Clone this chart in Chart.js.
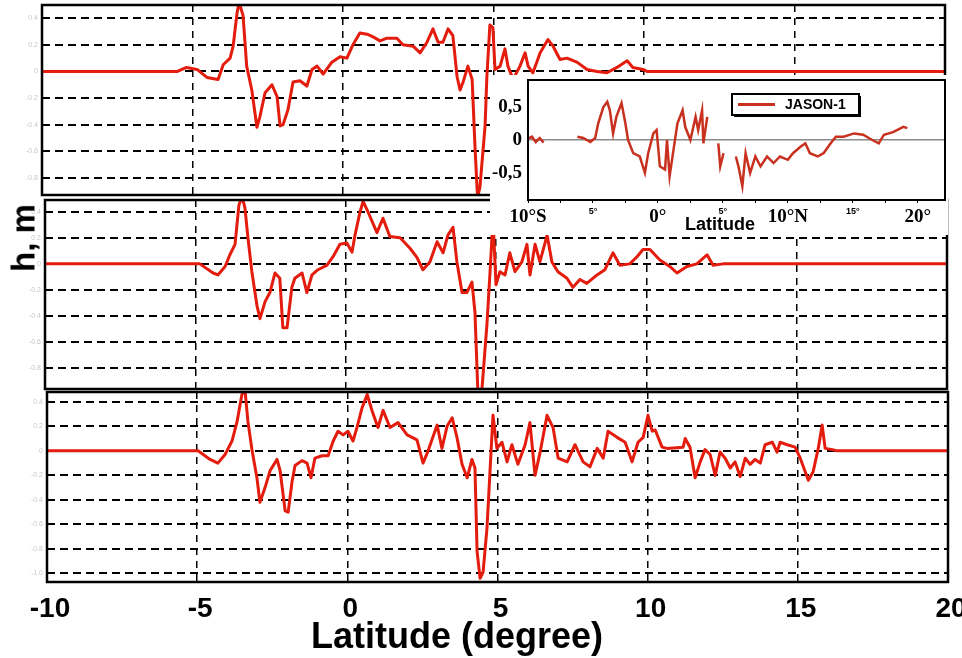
<!DOCTYPE html>
<html>
<head>
<meta charset="utf-8">
<script src="https://cdn.jsdelivr.net/npm/chart.js@4.4.1/dist/chart.umd.min.js"></script>
<style>
  html, body { margin: 0; padding: 0; background: #fff; }
  #page { position: relative; width: 962px; height: 658px; overflow: hidden; }
  canvas { position: absolute; left: 0; }
  .label { position: absolute; font-family: "Liberation Sans", Arial, sans-serif; font-weight: bold; white-space: nowrap; color: #000; z-index: 5; }
  #y-title { left: 23px; top: 238px; font-size: 33px; line-height: 33px; transform: translate(-50%, -50%) rotate(-90deg); }
  #x-title { left: 457px; top: 618px; font-size: 36px; line-height: 36px; transform: translateX(-50%); }
  #inset-title { left: 720px; top: 215px; font-size: 18px; line-height: 18px; transform: translateX(-50%); }
</style>
</head>
<body>
<div id="page">
  <canvas id="panel-1" width="962" height="200" style="top:0"></canvas>
  <canvas id="panel-2" width="962" height="196" style="top:198px"></canvas>
  <canvas id="panel-3" width="962" height="270" style="top:388px"></canvas>
  <canvas id="inset" width="458" height="160" style="left:490px;top:75px;background:#fff"></canvas>
  <div class="label" id="y-title">h, m</div>
  <div class="label" id="x-title">Latitude (degree)</div>
  <div class="label" id="inset-title">Latitude</div>
</div>
<script>
// latitude (degree) and sea level h (m)
const lat1 = [-10, -5.5, -5.2, -4.85, -4.52, -4.15, -3.98, -3.75, -3.65, -3.52,
  -3.45, -3.32, -3.2, -3.03, -2.86, -2.76, -2.59, -2.36, -2.19, -2.09,
  -1.99, -1.83, -1.66, -1.43, -1.2, -1.03, -0.86, -0.66, -0.37, -0.1,
  0.13, 0.33, 0.56, 0.8, 1.0, 1.23, 1.46, 1.79, 1.99, 2.33,
  2.56, 2.79, 2.99, 3.16, 3.32, 3.49, 3.65, 3.79, 3.89, 3.99,
  4.15, 4.29, 4.39, 4.47, 4.55, 4.72, 4.78, 4.88, 4.98, 5.05,
  5.22, 5.38, 5.48, 5.65, 5.88, 6.05, 6.15, 6.31, 6.55, 6.81,
  6.98, 7.21, 7.44, 7.77, 8.11, 8.44, 8.77, 9.1, 9.44, 9.63,
  9.97, 10.1, 20];
const h1 = [0, 0, 0.03, 0.015, -0.045, -0.06, 0.05, 0.1, 0.19, 0.44,
  0.52, 0.42, 0.04, -0.14, -0.42, -0.34, -0.16, -0.1, -0.19, -0.41,
  -0.4, -0.29, -0.08, -0.07, -0.11, 0.015, 0.04, -0.02, 0.07, 0.11,
  0.1, 0.2, 0.29, 0.28, 0.26, 0.23, 0.25, 0.25, 0.2, 0.19,
  0.14, 0.22, 0.32, 0.22, 0.22, 0.32, 0.27, -0.04, -0.14, -0.08,
  0.04, -0.06, -0.59, -0.95, -0.87, -0.41, -0.04, 0.35, 0.33, 0.015,
  0.04, 0.17, 0.04, -0.06, 0.04, 0.14, 0.04, -0.01, 0.14, 0.24,
  0.19, 0.09, 0.1, 0.07, 0.015, 0, -0.01, 0.03, 0.08, 0.03,
  0.015, 0, 0];

const lat2 = [-10, -4.85, -4.41, -4.25, -4.01, -3.85, -3.68, -3.55, -3.45, -3.35,
  -3.25, -3.12, -2.95, -2.85, -2.68, -2.52, -2.35, -2.19, -2.09, -1.95,
  -1.79, -1.69, -1.45, -1.29, -1.12, -0.92, -0.62, -0.42, -0.19, 0.04,
  0.21, 0.31, 0.48, 0.58, 0.74, 1.04, 1.24, 1.47, 1.81, 2.14,
  2.37, 2.57, 2.8, 3.04, 3.24, 3.4, 3.57, 3.7, 3.87, 4.03,
  4.2, 4.3, 4.4, 4.52, 4.7, 4.8, 4.9, 5.0, 5.13, 5.3,
  5.46, 5.63, 5.86, 6.03, 6.13, 6.3, 6.46, 6.7, 6.86, 7.06,
  7.36, 7.56, 7.79, 8.02, 8.36, 8.62, 8.89, 9.12, 9.45, 9.69,
  9.89, 10.12, 10.45, 10.78, 11.02, 11.35, 11.68, 12.02, 12.22, 12.55,
  20];
const h2 = [0, 0, -0.07, -0.085, -0.02, 0.07, 0.15, 0.45, 0.52, 0.43,
  0.2, -0.06, -0.32, -0.42, -0.29, -0.22, -0.07, -0.11, -0.49, -0.49,
  -0.18, -0.11, -0.07, -0.22, -0.085, -0.045, -0.01, 0.055, 0.15, 0.16,
  0.09, 0.22, 0.4, 0.48, 0.4, 0.24, 0.35, 0.21, 0.2, 0.12,
  0.05, -0.045, 0.015, 0.17, 0.085, 0.22, 0.28, 0.015, -0.22, -0.22,
  -0.14, -0.37, -1.0, -1.0, -0.46, -0.07, 0.35, -0.16, -0.06, -0.085,
  0.085, -0.06, 0.015, 0.15, -0.085, 0.15, 0.015, 0.22, 0.015, -0.06,
  -0.11, -0.18, -0.12, -0.15, -0.085, -0.045, 0.085, -0.01, 0, 0.055,
  0.11, 0.11, 0.03, -0.02, -0.07, -0.02, 0, 0.07, -0.01, 0,
  0];

const lat3 = [-10, -4.97, -4.57, -4.31, -4.07, -3.84, -3.67, -3.51, -3.41, -3.31,
  -3.17, -3.01, -2.91, -2.74, -2.57, -2.34, -2.24, -2.07, -1.97, -1.84,
  -1.74, -1.51, -1.34, -1.21, -1.08, -0.84, -0.64, -0.47, -0.31, -0.14,
  0.02, 0.19, 0.32, 0.49, 0.66, 0.82, 1.02, 1.19, 1.42, 1.69,
  1.99, 2.32, 2.52, 2.69, 2.99, 3.15, 3.32, 3.49, 3.65, 3.82,
  3.99, 4.15, 4.25, 4.32, 4.42, 4.52, 4.65, 4.75, 4.85, 4.98,
  5.15, 5.32, 5.48, 5.68, 5.92, 6.08, 6.25, 6.42, 6.65, 6.85,
  7.02, 7.32, 7.58, 7.85, 8.08, 8.32, 8.52, 8.68, 8.98, 9.25,
  9.48, 9.68, 9.85, 10.01, 10.15, 10.25, 10.48, 10.65, 11.18, 11.25,
  11.41, 11.58, 11.75, 11.91, 12.08, 12.25, 12.41, 12.58, 12.75, 12.91,
  13.08, 13.25, 13.41, 13.58, 13.75, 13.91, 14.15, 14.31, 14.41, 14.65,
  14.91, 15.08, 15.35, 15.51, 15.68, 15.81, 15.91, 16.15, 16.31, 20];
const h3 = [0, 0, -0.07, -0.1, -0.03, 0.08, 0.24, 0.46, 0.5, 0.24,
  0, -0.22, -0.42, -0.3, -0.16, -0.07, -0.16, -0.49, -0.5, -0.25,
  -0.12, -0.08, -0.1, -0.22, -0.06, -0.04, -0.04, 0.08, 0.16, 0.13,
  0.16, 0.08, 0.19, 0.35, 0.46, 0.33, 0.19, 0.33, 0.19, 0.23,
  0.13, 0.09, -0.1, 0, 0.21, 0.02, 0.2, 0.27, 0.11, -0.11,
  -0.22, -0.07, -0.14, -0.82, -1.04, -0.99, -0.63, -0.17, 0.29, 0.02,
  0.07, -0.09, 0.05, -0.11, 0.05, 0.23, -0.2, -0.01, 0.29, 0.19,
  -0.06, -0.09, 0.05, -0.09, -0.13, 0.02, -0.06, 0.16, 0.11, 0.07,
  -0.09, 0.07, 0.11, 0.29, 0.16, 0.17, 0.03, 0.02, 0.03, 0.1,
  0.03, -0.22, -0.09, 0.01, -0.03, -0.2, -0.01, -0.06, -0.14, -0.09,
  -0.21, -0.06, -0.11, -0.07, -0.1, 0.05, 0.07, -0.01, 0.07, 0.05,
  0.03, -0.06, -0.24, -0.17, 0.02, 0.21, 0.02, 0.01, 0, 0];

// JASON-1 inset, null marks a gap in the track
const insetLat = [-10, -9.7, -9.4, -9.1, -8.8, -7.5, -6.2, -5.75, -5.2, -4.83,
  -4.6, -4.2, -3.9, -3.7, -3.45, -3.2, -2.8, -2.5, -2.3, -1.9,
  -1.4, -1.0, -0.75, -0.35, -0.1, 0.15, 0.55, 0.7, 0.9, 1.2,
  1.5, 1.9, 2.1, 2.5, 2.9, 3.1, 3.4, 3.5, 3.8, 4.2,
  4.65, 4.8, 5.05, 5.5, 6.0, 6.2, 6.5, 6.75, 7.1, 7.5,
  7.9, 8.4, 8.9, 9.4, 10.0, 10.4, 11.0, 11.35, 11.7, 12.3,
  12.75, 13.3, 13.7, 14.3, 15.1, 15.8, 16.5, 17.0, 17.4, 18.1,
  18.9, 19.2];
const insetH = [0.02, 0.05, -0.03, 0.03, -0.04, null, 0.05, 0.03, -0.03, 0.03,
  0.25, 0.5, 0.58, 0.45, 0.1, 0.35, 0.56, 0.25, 0, -0.2,
  -0.25, -0.5, -0.2, 0.1, 0.15, -0.4, -0.45, 0, -0.55, -0.15,
  0.25, 0.45, 0.2, 0, 0.35, 0.15, 0.45, -0.05, 0.35, null,
  -0.05, -0.4, -0.2, null, -0.25, -0.4, -0.7, -0.2, -0.5, -0.25,
  -0.4, -0.25, -0.35, -0.25, -0.3, -0.2, -0.1, -0.05, -0.2, -0.25,
  -0.2, -0.05, 0.05, 0.05, 0.1, 0.08, 0, -0.05, 0.08, 0.12,
  0.2, 0.18];

const latTicks = [-10, -5, 0, 5, 10, 15, 20];
const levelTicks = [0.4, 0.2, 0, -0.2, -0.4, -0.6, -0.8];
const levelTicksBottom = [0.4, 0.2, 0, -0.2, -0.4, -0.6, -0.8, -1];
const insetLevelTicks = [0.5, 0, -0.5];
const insetMarks = [-10, -7.5, -5, -2.5, 0, 2.5, 5, 7.5, 10, 12.5, 15, 17.5, 20];
const insetTickValues = [-10, -5, 0, 5, 10, 15, 20];
const insetTickLabels = ["10°S", "5°", "0°", "5°", "10°N", "15°", "20°"];

const lineRed = "#e31c0d";
const insetRed = "#c8301f";
const sansBold = "'Liberation Sans', Arial, sans-serif";
const serifBold = "'Liberation Serif', 'Times New Roman', serif";

function toPoints(xs, ys) {
  return xs.map(function (x, i) {
    return { x: x, y: ys[i] };
  });
}

function fixedTicks(values) {
  return function (axis) {
    axis.ticks = values.map(function (v) {
      return { value: v };
    });
  };
}

// lock an axis to a given size and drop the padding chart.js adds for edge labels
function fixedSize(prop, size) {
  return function (axis) {
    axis[prop] = size;
    axis.paddingLeft = 0;
    axis.paddingRight = 0;
    axis.paddingTop = 0;
    axis.paddingBottom = 0;
  };
}

const framePlugin = {
  id: "frame",
  afterDatasetsDraw: function (chart, args, opts) {
    const a = chart.chartArea;
    const ctx = chart.ctx;
    ctx.save();
    ctx.lineWidth = opts.width || 2;
    ctx.strokeStyle = "#000";
    ctx.strokeRect(a.left, a.top, a.right - a.left, a.bottom - a.top);
    ctx.restore();
  },
};

const boxLegendPlugin = {
  id: "boxLegend",
  afterDatasetsDraw: function (chart, args, opts) {
    const ds = chart.data.datasets[0];
    const a = chart.chartArea;
    const ctx = chart.ctx;
    const x = a.left + opts.offsetX;
    const y = a.top + opts.offsetY;
    const mid = y + opts.height / 2;
    ctx.save();
    ctx.fillStyle = "#000";
    ctx.fillRect(x + 2, y + 2, opts.width, opts.height);
    ctx.fillStyle = "#fff";
    ctx.fillRect(x, y, opts.width, opts.height);
    ctx.lineWidth = 2;
    ctx.strokeStyle = "#000";
    ctx.strokeRect(x, y, opts.width, opts.height);
    ctx.strokeStyle = ds.borderColor;
    ctx.lineWidth = 3;
    ctx.beginPath();
    ctx.moveTo(x + 6, mid);
    ctx.lineTo(x + 43, mid);
    ctx.stroke();
    ctx.fillStyle = "#000";
    ctx.font = "bold 14px " + sansBold;
    ctx.textBaseline = "middle";
    ctx.fillText(ds.label, x + 53, mid + 1);
    ctx.restore();
  },
};

function renderPanel(id, lat, h, setup) {
  return new Chart(document.getElementById(id), {
    type: "line",
    data: {
      datasets: [
        {
          data: toPoints(lat, h),
          borderColor: lineRed,
          borderWidth: 3,
          pointRadius: 0,
          tension: 0,
          borderJoinStyle: "round",
        },
      ],
    },
    options: {
      responsive: false,
      animation: false,
      events: [],
      layout: {
        padding: { left: 0, right: setup.padRight, top: setup.padTop, bottom: setup.padBottom },
      },
      plugins: {
        legend: { display: false },
        tooltip: { enabled: false },
        frame: { width: 2.5 },
      },
      scales: {
        x: {
          type: "linear",
          min: -10,
          max: 20,
          afterBuildTicks: fixedTicks(latTicks),
          afterFit: fixedSize("height", setup.xHeight),
          grid: {
            color: function (c) {
              return c.tick && (c.tick.value === -10 || c.tick.value === 20) ? "transparent" : "#000";
            },
            lineWidth: 1.5,
            drawTicks: false,
          },
          border: { display: false, dash: [7, 6] },
          ticks: {
            display: setup.showLabels,
            padding: 10,
            labelOffset: 3,
            color: "#000",
            maxRotation: 0,
            autoSkip: false,
            font: { family: sansBold, weight: "bold", size: 28 },
          },
        },
        y: {
          min: setup.min,
          max: setup.max,
          afterBuildTicks: fixedTicks(setup.levels),
          afterFit: fixedSize("width", setup.left),
          grid: { color: "#000", lineWidth: 2, drawTicks: false },
          border: { display: false, dash: [8, 5] },
          ticks: {
            padding: 4,
            color: "#c8c8c8",
            font: { family: sansBold, size: 7 },
          },
        },
      },
    },
    plugins: [framePlugin],
  });
}

renderPanel("panel-1", lat1, h1, {
  min: -0.93, max: 0.5, levels: levelTicks, left: 42, padRight: 17,
  padTop: 5, padBottom: 5, xHeight: 0, showLabels: false,
});
renderPanel("panel-2", lat2, h2, {
  min: -0.96, max: 0.49, levels: levelTicks, left: 45, padRight: 15,
  padTop: 2, padBottom: 5, xHeight: 0, showLabels: false,
});
renderPanel("panel-3", lat3, h3, {
  min: -1.07, max: 0.48, levels: levelTicksBottom, left: 47, padRight: 14,
  padTop: 4, padBottom: 0, xHeight: 76, showLabels: true,
});

new Chart(document.getElementById("inset"), {
  type: "line",
  data: {
    datasets: [
      {
        label: "JASON-1",
        data: toPoints(insetLat, insetH),
        borderColor: insetRed,
        borderWidth: 2.5,
        pointRadius: 0,
        tension: 0,
        spanGaps: false,
      },
    ],
  },
  options: {
    responsive: false,
    animation: false,
    events: [],
    layout: { padding: { left: 0, right: 3, top: 5, bottom: 0 } },
    plugins: {
      legend: { display: false },
      tooltip: { enabled: false },
      frame: { width: 2 },
      boxLegend: { offsetX: 204, offsetY: 14, width: 127, height: 21 },
    },
    scales: {
      x: {
        type: "linear",
        min: -10,
        max: 22.1,
        afterBuildTicks: fixedTicks(insetMarks),
        afterFit: fixedSize("height", 35),
        grid: { drawOnChartArea: false, drawTicks: true, tickLength: 3, color: "#000", lineWidth: 1 },
        border: { display: false },
        ticks: {
          padding: 3,
          color: "#000",
          maxRotation: 0,
          autoSkip: false,
          font: function (c) {
            const v = c.tick ? c.tick.value : 0;
            return v % 10 === 0
              ? { family: serifBold, weight: "bold", size: 19 }
              : { family: sansBold, weight: "bold", size: 9 };
          },
          callback: function (value) {
            const i = insetTickValues.indexOf(value);
            return i === -1 ? "" : insetTickLabels[i];
          },
        },
      },
      y: {
        min: -0.91,
        max: 0.91,
        afterBuildTicks: fixedTicks(insetLevelTicks),
        afterFit: fixedSize("width", 38),
        grid: {
          color: function (c) {
            return c.tick && c.tick.value === 0 ? "#8a8a8a" : "transparent";
          },
          lineWidth: 1.5,
          drawTicks: false,
        },
        border: { display: false },
        ticks: {
          padding: 6,
          color: "#000",
          font: { family: serifBold, weight: "bold", size: 19 },
          callback: function (value) {
            return String(value).replace(".", ",");
          },
        },
      },
    },
  },
  plugins: [framePlugin, boxLegendPlugin],
});
</script>
</body>
</html>
